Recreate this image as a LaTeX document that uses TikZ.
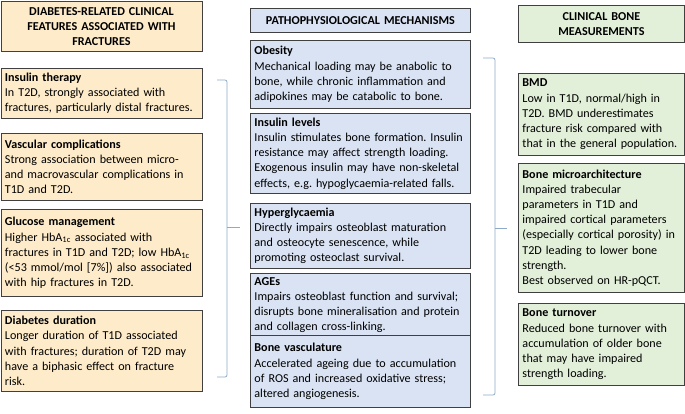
\documentclass[tikz,border=0pt]{standalone}
\usepackage{fontspec}
\setmainfont{Carlito}
\usetikzlibrary{positioning}
\definecolor{featfill}{HTML}{FDEBC9}
\definecolor{mechfill}{HTML}{DAE3F3}
\definecolor{measfill}{HTML}{E2EFD9}
\definecolor{boxline}{HTML}{404040}
\definecolor{bracecol}{HTML}{8FAAC9}
\frenchspacing
\tikzset{
  box/.style={draw=boxline,line width=.9pt,anchor=north west,align=left,
    inner sep=4pt,font=\fontsize{12.1}{15.2}\selectfont},
  headbox/.style={box,align=center},
  featbox/.style={box,fill=featfill,text width=193pt},
  mechbox/.style={box,fill=mechfill,text width=212pt},
  measbox/.style={box,fill=measfill,text width=158pt},
  bracket/.style={draw=bracecol,line width=.8pt,rounded corners=2pt}}
\begin{document}
\begin{tikzpicture}[x=1pt,y=-1pt]
\useasboundingbox (0,0) rectangle (685,413);
% left column: clinical features
\node[headbox,fill=featfill,text width=193pt,minimum height=50pt] (feathead) at (0.5,1)
  {\textbf{DIABETES-RELATED CLINICAL}\\\textbf{FEATURES ASSOCIATED WITH}\\\textbf{FRACTURES}};
\node[featbox,minimum height=50pt] (insulin) at (0.5,68)
  {\textbf{Insulin therapy}\\In T2D, strongly associated with\\fractures, particularly distal fractures.};
\node[featbox,minimum height=67pt] (vascular) at (0.5,133)
  {\textbf{Vascular complications}\\Strong association between micro-\\and macrovascular complications in\\T1D and T2D.};
\node[featbox,minimum height=87pt] (glucose) at (0.5,209)
  {\textbf{Glucose management}\\Higher HbA\textsubscript{1c} associated with\\fractures in T1D and T2D; low HbA\textsubscript{1c}\\(<53 mmol/mol [7\%]) also associated\\with hip fractures in T2D.};
\node[featbox,minimum height=81pt] (duration) at (0.5,310)
  {\textbf{Diabetes duration}\\Longer duration of T1D associated\\with fractures; duration of T2D may\\have a biphasic effect on fracture\\risk.};
% middle column: mechanisms
\node[headbox,fill=mechfill,text width=212pt,minimum height=24pt] (mechhead) at (250,8)
  {\textbf{PATHOPHYSIOLOGICAL MECHANISMS}};
\node[mechbox,minimum height=68pt] (obesity) at (250,40)
  {\textbf{Obesity}\\Mechanical loading may be anabolic to\\bone, while chronic inflammation and\\adipokines may be catabolic to bone.};
\node[mechbox,minimum height=80pt] (insulinlev) at (250,113)
  {\textbf{Insulin levels}\\Insulin stimulates bone formation. Insulin\\resistance may affect strength loading.\\Exogenous insulin may have non-skeletal\\effects, e.g. hypoglycaemia-related falls.};
\node[mechbox,minimum height=65pt] (hyper) at (250,203)
  {\textbf{Hyperglycaemia}\\Directly impairs osteoblast maturation\\and osteocyte senescence, while\\promoting osteoclast survival.};
\node[mechbox,minimum height=59pt] (ages) at (250,273)
  {\textbf{AGEs}\\Impairs osteoblast function and survival;\\disrupts bone mineralisation and protein\\and collagen cross-linking.};
\node[mechbox,minimum height=72pt] (vasc) at (250,335)
  {\textbf{Bone vasculature}\\Accelerated ageing due to accumulation\\of ROS and increased oxidative stress;\\altered angiogenesis.};
% right column: measurements
\node[headbox,fill=measfill,text width=158pt,minimum height=37pt] (meashead) at (518,5)
  {\textbf{CLINICAL BONE}\\\textbf{MEASUREMENTS}};
\node[measbox,minimum height=82pt] (bmd) at (518,73)
  {\textbf{BMD}\\Low in T1D, normal/high in\\T2D. BMD underestimates\\fracture risk compared with\\that in the general population.};
\node[measbox,minimum height=129pt] (micro) at (518,163)
  {\textbf{Bone microarchitecture}\\Impaired trabecular\\parameters in T1D and\\impaired cortical parameters\\(especially cortical porosity) in\\T2D leading to lower bone\\strength.\\Best observed on HR-pQCT.};
\node[measbox,minimum height=82pt] (turnover) at (518,303)
  {\textbf{Bone turnover}\\Reduced bone turnover with\\accumulation of older bone\\that may have impaired\\strength loading.};
% brackets
\coordinate (lb1) at (217,80);
\coordinate (lb2) at (217,377);
\coordinate (ltip) at (240,227);
\draw[bracket] (lb1) -- (227,80) -- (227,377) -- (lb2);
\draw[bracket] (227,227) -- (ltip);
\coordinate (rb1) at (483,58);
\coordinate (rb2) at (483,395);
\coordinate (rtip) at (507,228);
\draw[bracket] (rb1) -- (495,58) -- (495,395) -- (rb2);
\draw[bracket] (495,228) -- (rtip);
\end{tikzpicture}
\end{document}
